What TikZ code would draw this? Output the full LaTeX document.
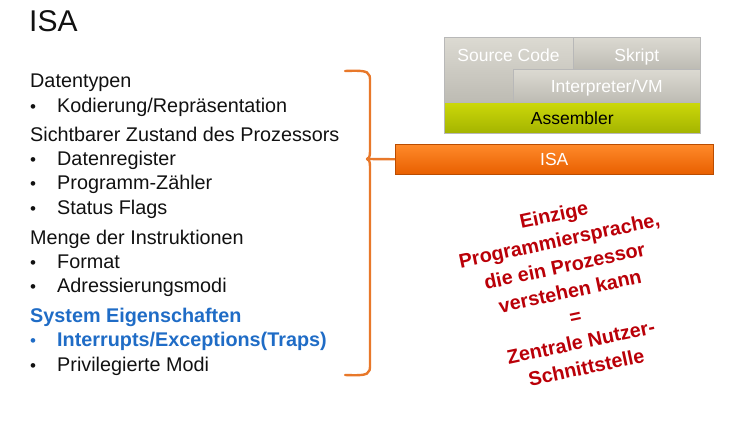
\documentclass[tikz,border=0pt]{standalone}
\usepackage{fontspec}
\setmainfont{Liberation Sans}
\usetikzlibrary{shadows}
\definecolor{bodytext}{HTML}{111111}
\definecolor{sysblue}{HTML}{1F6CC6}
\definecolor{bracecol}{HTML}{E8782A}
\definecolor{darkred}{HTML}{BA0008}
\definecolor{graytop}{HTML}{DCDAD2}
\definecolor{graybot}{HTML}{BDBBB3}
\definecolor{asmtop}{HTML}{CCD80A}
\definecolor{asmbot}{HTML}{A4B400}
\definecolor{isatop}{HTML}{FF8A2A}
\definecolor{isabot}{HTML}{E85F00}
\tikzset{
  body/.style={anchor=west, inner sep=0pt, text height=14.5pt, text depth=4pt,
    text=bodytext, font=\fontsize{19.8}{24}\selectfont},
  head/.style={body},
  item/.style={body},
  dot/.style={body, anchor=center, font=\fontsize{17}{24}\selectfont},
  layer/.style={draw=black!28, line width=0.5pt, anchor=north west, inner sep=0pt,
    drop shadow={shadow xshift=1pt, shadow yshift=-1.2pt, opacity=0.3}},
  graybox/.style={layer, top color=graytop, bottom color=graybot},
  boxtext/.style={inner sep=0pt, text height=14pt, text depth=1.4pt,
    font=\fontsize{17.5}{20}\selectfont},
}
\begin{document}
\begin{tikzpicture}[x=1pt,y=-1pt]
\useasboundingbox (0,0) rectangle (744,427);

% title
\node[anchor=west, inner sep=0pt, font=\fontsize{30}{32}\selectfont, text=bodytext] (title) at (29,21) {ISA};

% left column
\node[head] (h1) at (30,82) {Datentypen};
\node[dot] (b1) at (33,107) {•};
\node[item] (i1) at (57,107) {Kodierung/Repräsentation};
\node[head] (h2) at (30,136) {Sichtbarer Zustand des Prozessors};
\node[dot] (b2) at (33,160) {•};
\node[item] (i2) at (57,160) {Datenregister};
\node[dot] (b3) at (33,184) {•};
\node[item] (i3) at (57,184) {Programm-Zähler};
\node[dot] (b4) at (33,209) {•};
\node[item] (i4) at (57,209) {Status Flags};
\node[head] (h3) at (30,239) {Menge der Instruktionen};
\node[dot] (b5) at (33,263) {•};
\node[item] (i5) at (57,263) {Format};
\node[dot] (b6) at (33,287) {•};
\node[item] (i6) at (57,287) {Adressierungsmodi};
\node[head, text=sysblue, font=\bfseries\fontsize{19.8}{24}\selectfont] (h4) at (30,317) {System Eigenschaften};
\node[dot, text=sysblue] (b7) at (33,341) {•};
\node[item, text=sysblue, font=\bfseries\fontsize{19.8}{24}\selectfont] (i7) at (57,341) {Interrupts/Exceptions(Traps)};
\node[dot] (b8) at (33,366) {•};
\node[item] (i8) at (57,366) {Privilegierte Modi};

% layer stack
\node[graybox, minimum width=129, minimum height=65] (src) at (444,37) {};
\node[boxtext, text=white] (srclbl) at (508.5,55) {Source Code};
\node[graybox, minimum width=127, minimum height=32] (skript) at (573,37) {};
\node[boxtext, text=white, yshift=-1.5pt] (skriptlbl) at (skript.center) {Skript};
\node[graybox, minimum width=187, minimum height=33] (vm) at (513,69) {};
\node[boxtext, text=white] (vmlbl) at (vm.center) {Interpreter/VM};
\node[layer, top color=asmtop, bottom color=asmbot, minimum width=256, minimum height=31] (asm) at (444,102) {};
\node[boxtext, text=black] (asmlbl) at (asm.center) {Assembler};
\node[layer, draw=isabot!80!black, top color=isatop, bottom color=isabot, minimum width=318, minimum height=30] (isa) at (395,144) {};
\node[boxtext, text=white] (isalbl) at (isa.center) {ISA};

% brace grouping the left column, pointing at the ISA bar
\coordinate (cusp) at (367,159);
\draw[bracecol, line width=2.4pt, line cap=round, line join=round]
  (345,71) .. controls (370,70) and (370,72) .. (370,82)
  -- (370,150) .. controls (370,157) and (369,159) .. (cusp)
  .. controls (369,159) and (370,161) .. (370,168)
  -- (370,364) .. controls (370,374) and (370,376) .. (345,375);
\draw[bracecol, line width=2.4pt] (cusp) -- (isa.west);

% rotated statement
\node[rotate=12, align=center, text=darkred, inner sep=0pt,
      font=\bfseries\fontsize{19.8}{26}\selectfont] (claim) at (570,291)
  {Einzige\\Programmiersprache,\\die ein Prozessor\\verstehen kann\\=\\Zentrale Nutzer-\\Schnittstelle};
\end{tikzpicture}
\end{document}
